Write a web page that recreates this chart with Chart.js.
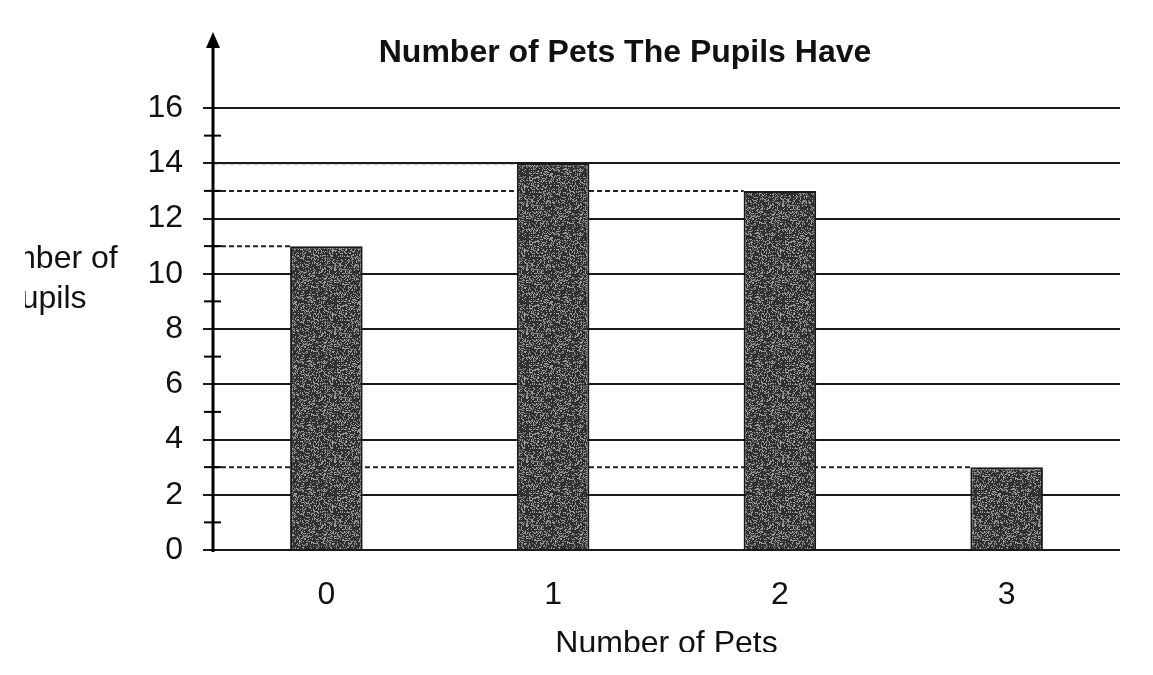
<!DOCTYPE html>
<html>
<head>
<meta charset="utf-8">
<script src="https://cdn.jsdelivr.net/npm/chart.js@4.4.1/dist/chart.umd.min.js"></script>
<style>
  html, body { margin: 0; padding: 0; background: #fff; }
</style>
</head>
<body>
<canvas id="petsChart" width="1153" height="675"></canvas>
<script>
// data
const petCounts = ["0", "1", "2", "3"];
const pupilCounts = [11, 14, 13, 3];
const minorTicks = [1, 3, 5, 7, 9, 11, 13, 15];
const chartTitle = "Number of Pets The Pupils Have";
const xTitle = "Number of Pets";
const yTitle = ["Number of", "Pupils"];

const FONT = '"Liberation Sans", Arial, sans-serif';
const INK = "#111";

// speckled grey fill, like the scanned bars
function barTexture() {
    const c = document.createElement("canvas");
    c.width = 64;
    c.height = 64;
    const g = c.getContext("2d");
    const img = g.createImageData(64, 64);
    for (let y = 0; y < 64; y++) {
        for (let x = 0; x < 64; x++) {
            let h = (x * 374761393 + y * 668265263) | 0;
            h = Math.imul(h ^ (h >>> 13), 1274126177);
            h ^= h >>> 16;
            const v = ((h >>> 0) % 100) < 30 ? 150 : 48;
            const i = (y * 64 + x) * 4;
            img.data[i] = v;
            img.data[i + 1] = v;
            img.data[i + 2] = v;
            img.data[i + 3] = 255;
        }
    }
    g.putImageData(img, 0, 0);
    return g.createPattern(c, "repeat");
}

const decor = {
    id: "decor",
    beforeDatasetsDraw(chart) {
        // dashed guide from the axis to each bar top
        const ctx = chart.ctx;
        const y = chart.scales.y;
        const bars = chart.getDatasetMeta(0).data;
        ctx.save();
        ctx.strokeStyle = "#222";
        ctx.lineWidth = 2;
        ctx.setLineDash([5, 3]);
        pupilCounts.forEach(function (v, i) {
            const py = y.getPixelForValue(v);
            ctx.beginPath();
            ctx.moveTo(chart.chartArea.left, py);
            ctx.lineTo(bars[i].x - bars[i].width / 2, py);
            ctx.stroke();
        });
        ctx.restore();
    },
    afterDraw(chart) {
        const ctx = chart.ctx;
        const area = chart.chartArea;
        const y = chart.scales.y;
        const ax = area.left;
        ctx.save();

        // y axis with arrow
        ctx.strokeStyle = "#000";
        ctx.lineWidth = 3;
        ctx.beginPath();
        ctx.moveTo(ax, area.bottom + 2);
        ctx.lineTo(ax, 46);
        ctx.stroke();
        ctx.fillStyle = "#000";
        ctx.beginPath();
        ctx.moveTo(ax, 32);
        ctx.lineTo(ax - 7, 48);
        ctx.lineTo(ax + 7, 48);
        ctx.closePath();
        ctx.fill();

        // minor ticks on odd values
        ctx.lineWidth = 2;
        minorTicks.forEach(function (v) {
            const py = y.getPixelForValue(v);
            ctx.beginPath();
            ctx.moveTo(ax - 9, py);
            ctx.lineTo(ax + 8, py);
            ctx.stroke();
        });

        // title
        ctx.fillStyle = INK;
        ctx.textAlign = "center";
        ctx.textBaseline = "alphabetic";
        ctx.font = "bold 32px " + FONT;
        ctx.fillText(chartTitle, 625, 62);

        // x axis title, cut at the bottom like the scan
        ctx.save();
        ctx.beginPath();
        ctx.rect(0, 0, chart.width, 652);
        ctx.clip();
        ctx.font = "32px " + FONT;
        ctx.fillText(xTitle, (area.left + area.right) / 2, 653);
        ctx.restore();

        // y axis title, cut at the left like the scan
        ctx.save();
        ctx.beginPath();
        ctx.rect(25, 0, chart.width, chart.height);
        ctx.clip();
        ctx.font = "32px " + FONT;
        ctx.fillText(yTitle[0], 43, 268);
        ctx.fillText(yTitle[1], 43, 308);
        ctx.restore();

        ctx.restore();
    },
};

const ctx = document.getElementById("petsChart").getContext("2d");
new Chart(ctx, {
    type: "bar",
    data: {
        labels: petCounts,
        datasets: [
            {
                label: "Pupils",
                data: pupilCounts,
                backgroundColor: barTexture(),
                borderColor: "#1a1a1a",
                borderWidth: 2,
                categoryPercentage: 1,
                barPercentage: 0.32,
            },
        ],
    },
    options: {
        responsive: false,
        animation: false,
        layout: { padding: { top: 108, right: 33, left: 0, bottom: 0 } },
        plugins: {
            legend: { display: false },
            tooltip: { enabled: false },
        },
        scales: {
            x: {
                grid: { display: false },
                border: { display: false },
                ticks: { color: INK, font: { family: FONT, size: 32 }, padding: 18 },
                afterFit(scale) { scale.height = 125; },
            },
            y: {
                min: 0,
                max: 16,
                ticks: { stepSize: 2, color: INK, font: { family: FONT, size: 32 }, padding: 20 },
                grid: { color: "#1a1a1a", lineWidth: 2, tickLength: 10 },
                border: { display: false },
                afterFit(scale) { scale.width = 213; },
            },
        },
    },
    plugins: [decor],
});
</script>
</body>
</html>
